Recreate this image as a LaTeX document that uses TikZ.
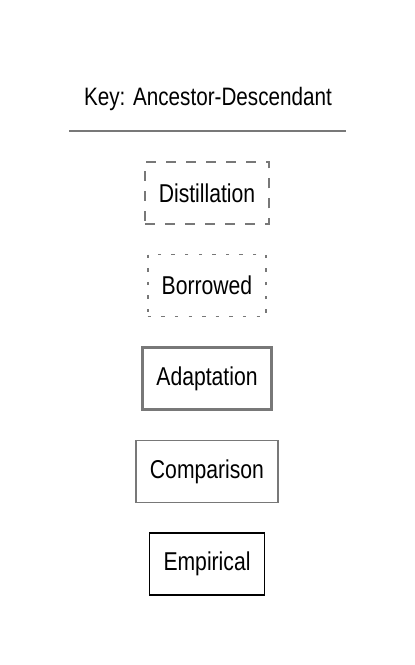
\documentclass[tikz,border=0pt]{standalone}
\usepackage{fontspec}
\setmainfont{Liberation Sans}[FakeStretch=0.82]
\usepackage{tikz}
\usetikzlibrary{positioning}
\definecolor{KeyGray}{rgb}{0.47, 0.47, 0.47}
\tikzset{
    keybox/.style={draw, rectangle, minimum height=31pt, inner xsep=7pt, font=\fontsize{12.9}{15}\selectfont},
    distil/.style={keybox, KeyGray, line width=0.85pt, dash pattern=on 5pt off 5pt, text=black},
    borrow/.style={keybox, KeyGray, line width=0.85pt, dash pattern=on 1.7pt off 5.1pt, text=black},
    adapt/.style={keybox, KeyGray, line width=1.5pt, text=black},
    compare/.style={keybox, KeyGray, line width=0.65pt, text=black},
    empiric/.style={keybox, black, line width=0.8pt}
}

\begin{document}
\begin{tikzpicture}[node distance=14.4pt]
        \useasboundingbox (0,0) rectangle (207.5pt,-332.5pt);

        % Draw the heading and the rule under it
        \node[anchor=base, font=\fontsize{12.6}{15}\selectfont] (key) at (104pt,-52.5pt) {Key: Ancestor-Descendant};
        \coordinate (ruleL) at (34.5pt,-65.5pt);
        \coordinate (ruleR) at (173pt,-65.5pt);
        \draw[KeyGray, line width=0.75pt] (ruleL) -- (ruleR);

        % Draw the kinds of link
        \node[distil] (distillation) at (103.5pt,-96.5pt) {Distillation};
        \node[borrow, below=of distillation] (borrowed) {Borrowed};
        \node[adapt, below=of borrowed] (adaptation) {Adaptation};
        \node[compare, below=of adaptation] (comparison) {Comparison};
        \node[empiric, below=of comparison] (empirical) {Empirical};
    \end{tikzpicture}
\end{document}
